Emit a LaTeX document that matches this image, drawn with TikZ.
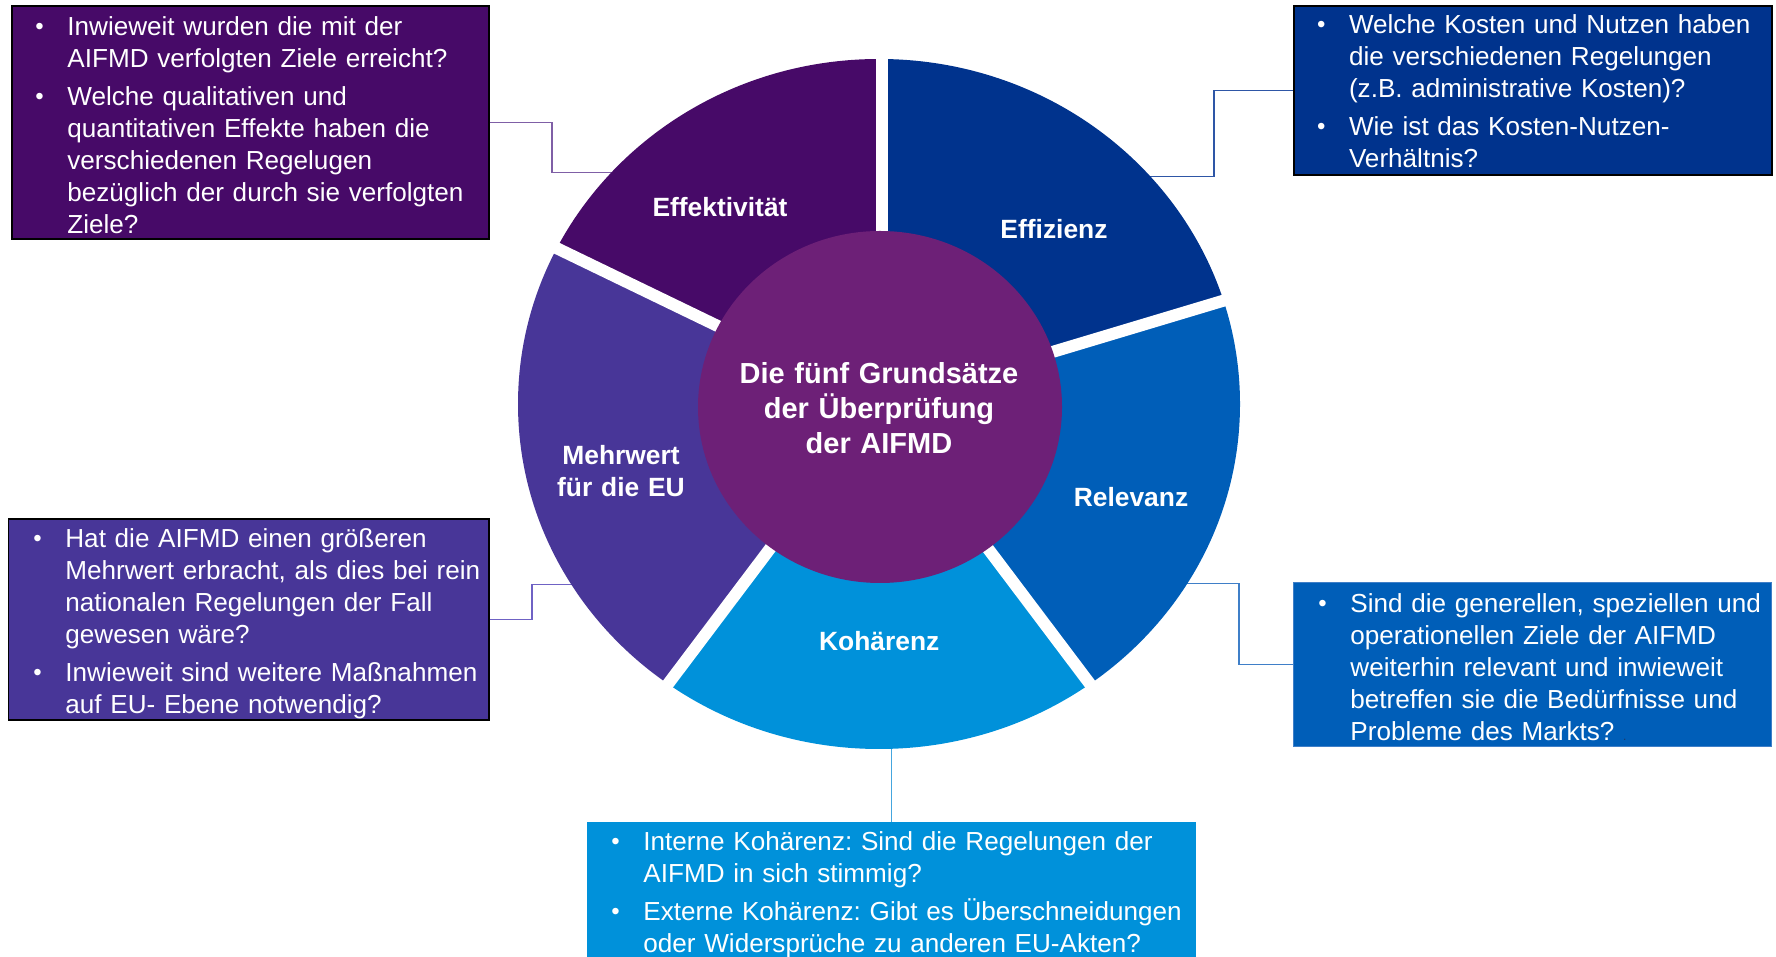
\documentclass[tikz,border=0pt]{standalone}
\usepackage{fontspec}
\setmainfont{Liberation Sans}
\usetikzlibrary{shapes.geometric}
\definecolor{cEffek}{HTML}{470A68}
\definecolor{cEffiz}{HTML}{00338D}
\definecolor{cRelev}{HTML}{005EB8}
\definecolor{cKoh}{HTML}{0091DA}
\definecolor{cMehr}{HTML}{483698}
\definecolor{cCore}{HTML}{6D2077}
\definecolor{lEffek}{HTML}{7F5FA6}
\definecolor{lEffiz}{HTML}{2E56A6}
\definecolor{lMehr}{HTML}{6F62C4}
\definecolor{lRelev}{HTML}{3F7FC8}
\definecolor{lKoh}{HTML}{45A6DE}
\definecolor{dotc}{HTML}{1F3864}
\newcommand\bul{\leavevmode\llap{\makebox[16pt][l]{\raisebox{0.4pt}{\fontsize{12}{12}\selectfont •}}}}
\tikzset{
  boxbase/.style={rectangle, inner sep=0pt, anchor=north west},
  boxtxt/.style={anchor=base west, inner sep=0pt, text width=300pt, align=left, text=white,
                 font=\frenchspacing\fontsize{13.05}{16}\selectfont},
  seglabel/.style={anchor=base, inner sep=0pt, text=white, font=\bfseries\fontsize{13.2}{15.85}\selectfont},
  conn/.style={line width=0.7pt},
  gapline/.style={white, line width=6pt},
}
\begin{document}
\begin{tikzpicture}[x=0.5pt,y=0.5pt]
\useasboundingbox (0,0) rectangle (1776,957);
\coordinate (C) at (879,553);

% ---- question boxes
\node[boxbase, fill=cEffek, draw=black, line width=0.9pt, minimum width=238.5pt, minimum height=116.5pt] (b1) at (11,952) {};
\node[boxbase, fill=cEffiz, draw=black, line width=0.9pt, minimum width=239pt, minimum height=84.5pt] (b2) at (1293,952) {};
\node[boxbase, fill=cMehr, draw=black, line width=0.9pt, minimum width=240.25pt, minimum height=100.5pt] (b3) at (7.5,439) {};
\node[boxbase, fill=cRelev, draw=lRelev, line width=0.6pt, minimum width=239pt, minimum height=82pt] (b4) at (1293,375) {};
\node[boxbase, fill=cKoh, minimum width=304.5pt, minimum height=70pt] (b5) at (587,135) {};

% ---- connector end points on the ring
\coordinate (effE) at (628,784.5);
\coordinate (effzE) at (1140,780.3);
\coordinate (mehrE) at (585,372.3);
\coordinate (relE) at (1178,373.7);
\coordinate (kohE) at (891.5,235);

\draw[conn, lEffek] (b1.east) -- ++(62,0) |- (effE);
\draw[conn, lEffiz] (b2.west) -- ++(-79,0) |- (effzE);
\draw[conn, lMehr] (b3.east) -- ++(42,0) |- (mehrE);
\draw[conn, lRelev] (b4.west) -- ++(-54,0) |- (relE);
\draw[conn, lKoh] (kohE) -- (kohE |- b5.north);

% ---- ring segments
\foreach \a/\m/\b/\c in {90/122.1/154.2/cEffek, 16.7/53.35/90/cEffiz, -53/-18.15/16.7/cRelev,
                         233/270/307/cKoh, 154.2/193.6/233/cMehr}{
  \begin{scope}
    \clip (C) -- ([shift={(\a:800)}]C) -- ([shift={(\m:800)}]C) -- ([shift={(\b:800)}]C) -- cycle;
    \fill[\c] (C) ellipse [x radius=361, y radius=345];
  \end{scope}
}
\foreach \g in {16.7,154.2,233,307}
  \draw[gapline] (C) -- ([shift={(\g:420)}]C);
\draw[gapline] (C) ++(3,0) -- ++(0,420);

% ---- core
\node[ellipse, fill=cCore, inner sep=0pt, minimum width=182pt, minimum height=176pt] (core) at (880,550) {};
\node[anchor=base, inner sep=0pt, text width=170pt, align=center, text=white,
      font=\bfseries\fontsize{14.5}{17.5}\selectfont] (coretxt) at (879,573.9)
      {Die fünf Grundsätze\\der Überprüfung\\der AIFMD};

% ---- segment labels
\node[seglabel] (lab1) at (720,740) {Effektivität};
\node[seglabel] (lab2) at (1054,718.3) {Effizienz};
\node[seglabel] (lab3) at (1131,450.9) {Relevanz};
\node[seglabel] (lab4) at (879.3,306.9) {Kohärenz};
\node[seglabel, text width=80pt, align=center] (lab5) at (621,492.6) {Mehrwert\\für die EU};

% ---- box texts
\node[boxtxt] (t1) at (67,921.5) {\bul Inwieweit wurden die mit der\\AIFMD verfolgten Ziele erreicht?\\[3pt]
  \bul Welche qualitativen und\\quantitativen Effekte haben die\\verschiedenen Regelugen\\bezüglich der durch sie verfolgten\\Ziele?};
\node[boxtxt] (t2) at (1348.6,923.5) {\bul Welche Kosten und Nutzen haben\\die verschiedenen Regelungen\\(z.B. administrative Kosten)?\\[3pt]
  \bul Wie ist das Kosten-Nutzen-\\Verhältnis?};
\node[boxtxt] (t3) at (65,409.2) {\bul Hat die AIFMD einen größeren\\Mehrwert erbracht, als dies bei rein\\nationalen Regelungen der Fall\\gewesen wäre?\\[3pt]
  \bul Inwieweit sind weitere Maßnahmen\\auf EU- Ebene notwendig?};
\node[boxtxt] (t4) at (1350,344.9) {\bul Sind die generellen, speziellen und\\operationellen Ziele der AIFMD\\weiterhin relevant und inwieweit\\betreffen sie die Bedürfnisse und\\Probleme des Markts? {\color{dotc}\fontsize{6}{6}\selectfont .}};
\node[boxtxt] (t5) at (643,106.5) {\bul Interne Kohärenz: Sind die Regelungen der\\AIFMD in sich stimmig?\\[3pt]
  \bul Externe Kohärenz: Gibt es Überschneidungen\\oder Widersprüche zu anderen EU-Akten?};
\end{tikzpicture}
\end{document}
